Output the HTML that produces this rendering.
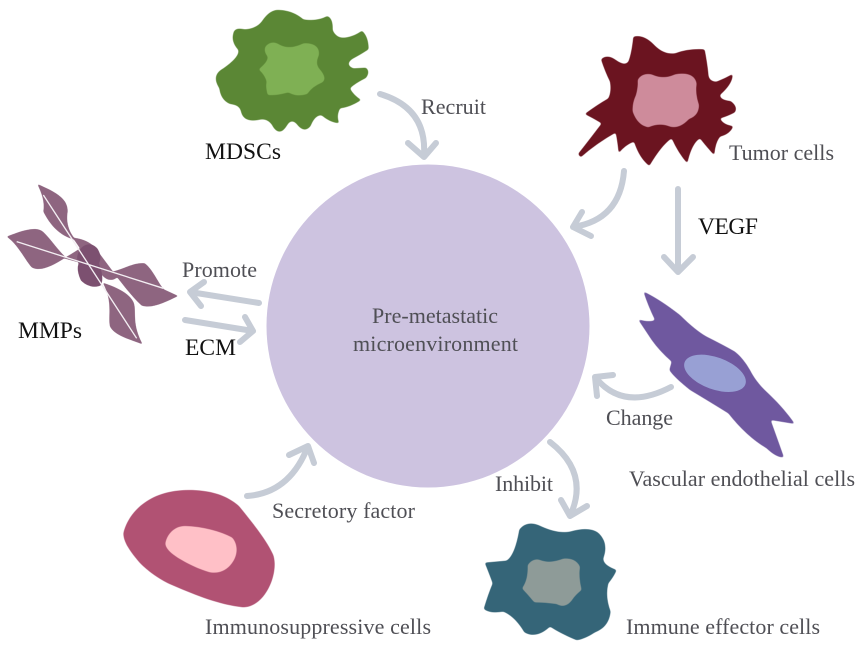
<!DOCTYPE html>
<html><head><meta charset="utf-8"><style>
html,body{margin:0;padding:0;background:#fff}
svg{display:block}
text{font-family:"Liberation Serif",serif;font-size:22px;fill:#4f4f55}
.k{fill:#111;font-size:23.5px}
.a{fill:none;stroke:#c6ccd6;stroke-width:6;stroke-linecap:round;stroke-linejoin:round}
</style></head><body>
<svg width="855" height="648" viewBox="0 0 855 648" xmlns="http://www.w3.org/2000/svg">
<defs>
<filter id="s" color-interpolation-filters="sRGB" x="-10%" y="-10%" width="120%" height="120%">
<feGaussianBlur stdDeviation="3.5"/>
<feComponentTransfer><feFuncA type="linear" slope="3" intercept="-1"/></feComponentTransfer>
</filter>
<filter id="t" color-interpolation-filters="sRGB" x="-10%" y="-10%" width="120%" height="120%">
<feGaussianBlur stdDeviation="2"/>
<feComponentTransfer><feFuncA type="linear" slope="3" intercept="-1"/></feComponentTransfer>
</filter>
</defs>
<rect width="855" height="648" fill="#fff"/>
<circle cx="428" cy="326" r="161.5" fill="#cdc3e0"/>

<g transform="translate(190,0) scale(.3333)">
<path filter="url(#s)" fill="#5b8735" d="M130 100Q132 80 165 88Q200 85 215 65Q240 26 270 30Q310 32 340 58Q380 65 412 48Q430 55 428 90Q440 118 470 112Q495 108 516 92Q536 110 536 148Q510 165 485 178Q465 195 490 205L528 203Q542 215 528 234Q495 250 480 265Q490 285 514 300Q480 322 450 325Q438 350 448 370Q420 368 395 346Q375 345 362 378Q345 400 325 378Q305 350 290 378Q270 410 250 382Q235 352 205 360Q160 368 153 335Q150 315 120 312Q92 300 88 265Q62 225 100 205Q150 170 145 150Q122 125 130 100Z"/>
<path filter="url(#s)" fill="#7fb054" d="M226 140Q245 118 270 135Q300 150 340 130Q390 128 387 165Q375 190 387 205Q414 235 397 247Q365 260 352 282Q320 292 295 277Q260 287 233 285Q226 260 230 245Q225 225 206 208Q235 185 233 170Q220 155 226 140Z"/>
</g>

<g transform="translate(560,30) scale(.3333)">
<path filter="url(#s)" fill="#6b1420" d="M123 88Q140 72 165 88Q195 110 205 95Q215 70 220 20Q250 12 280 42Q310 75 345 70Q385 55 434 58Q442 100 445 130Q445 155 470 155Q495 145 518 132Q520 160 480 195Q480 210 512 213Q535 230 525 247Q500 260 480 265Q490 285 520 288Q512 312 480 320Q465 340 463 376Q435 345 420 325Q395 340 382 400Q355 370 335 325Q305 345 268 408Q238 385 222 335Q195 345 176 370Q172 330 167 308Q110 340 62 382L54 372Q95 320 125 280Q100 265 74 252Q110 225 145 205Q155 185 150 155Q135 125 123 88Z"/>
<path filter="url(#s)" fill="#ce8b9b" d="M233 150Q245 128 275 133Q310 150 345 133Q402 123 410 160Q405 190 417 225Q417 257 387 267Q360 297 330 290Q300 277 265 292Q233 287 218 245Q216 220 228 195Q235 170 233 150Z"/>
</g>

<g transform="translate(0,170) scale(.3333)">
<g fill="#8e6580" filter="url(#t)">
<path d="M112 42C165 65 205 85 203 125C198 155 205 185 228 210C180 200 150 165 130 125C135 95 125 70 112 42Z"/>
<path d="M20 200C70 180 110 168 130 186C150 205 170 235 197 262C160 287 120 307 95 292C75 270 55 225 20 200Z"/>
<path d="M535 378C495 397 455 417 425 407C395 380 370 345 338 305C375 295 405 276 435 280C460 300 475 340 492 358Z"/>
<path d="M428 523C385 507 345 497 330 470C323 440 340 395 308 338C345 350 392 370 402 400C410 430 395 460 428 523Z"/>
<path d="M218 203Q265 208 287 235L352 322Q320 347 290 292L192 265Q225 245 240 235Z"/>
</g>
<path filter="url(#t)" fill="#7c5070" d="M245 232Q270 212 292 235Q308 260 297 280Q314 325 302 347Q270 358 243 332Q228 300 236 280Q223 260 245 232Z"/>
<path d="M130 75L410 505M50 215L490 355" stroke="#f3eef2" stroke-width="4" fill="none"/>
</g>

<g transform="translate(580,280) scale(.3333)">
<path filter="url(#s)" fill="#6f589f" d="M190 34Q240 58 300 105Q345 150 380 170Q430 195 465 215Q490 235 510 270Q530 310 570 345Q612 385 645 432L572 420Q590 470 612 532Q590 534 560 505Q500 470 445 400Q380 360 330 330Q280 290 268 270L275 245Q240 215 215 180L174 118Q210 128 225 120Q205 80 190 34Z"/>
<ellipse cx="405" cy="280" rx="97" ry="48" transform="rotate(20 405 280)" fill="#98a0d4"/>
</g>

<g transform="translate(470,430) scale(.3333)">
<path filter="url(#s)" fill="#356578" d="M44 398L110 392Q135 375 148 298Q170 272 205 285Q260 312 300 305Q360 288 387 310Q417 340 400 385Q398 405 440 420Q432 440 415 460Q405 500 422 545Q417 592 375 607Q345 627 320 631Q270 610 240 590Q200 628 163 607Q135 560 100 545Q60 552 41 537Q55 490 68 460Q55 425 44 398Z"/>
<path filter="url(#s)" fill="#8e9b98" d="M173 405Q190 383 210 390Q240 402 280 386Q317 383 330 410Q325 440 335 480Q315 495 305 512Q285 537 260 522Q225 517 193 517Q175 495 156 475Q175 450 173 405Z"/>
</g>

<g transform="translate(110,430) scale(.3333)">
<path filter="url(#s)" fill="#b15273" d="M40 310C55 245 120 180 235 180C300 180 350 195 387 228C425 275 470 330 490 375C508 430 465 532 400 532C330 525 260 497 190 467C150 450 115 425 88 397C60 365 40 335 40 310Z"/>
<path filter="url(#s)" fill="#ffc0c7" d="M166 340C172 310 195 288 225 288C280 290 330 303 367 323C385 345 382 372 372 390C355 420 330 432 300 427C265 417 235 402 210 387C185 372 166 355 166 340Z"/>
</g>

<g class="a">
<path d="M380 94Q427 108 424 155M408 143L424 157L436 143"/>
<path d="M624 171Q620 220 573 227M582 212L573 227L591 236"/>
<path d="M678 189V271M664 257L678 272L693 257"/>
<path d="M259 303L190 292M204 282L190 292L201 306"/>
<path d="M185 320L253 331M245 317L253 331L240 342"/>
<path d="M671 387Q623 412 595 377M613 375L595 377L597 396"/>
<path d="M550 442Q590 473 570 516M561 500L570 516L587 506"/>
<path d="M247 496Q290 493 308 446M289 455L308 446L314 463"/>
</g>

<text class="k" x="205" y="159" textLength="76">MDSCs</text>
<text x="421" y="114" textLength="65">Recruit</text>
<text x="729" y="160" textLength="105">Tumor cells</text>
<text class="k" x="698" y="234" textLength="60">VEGF</text>
<text x="182" y="277" textLength="75">Promote</text>
<text class="k" x="185" y="355" textLength="51">ECM</text>
<text class="k" x="18" y="338" textLength="64">MMPs</text>
<text x="372" y="323" textLength="126">Pre-metastatic</text>
<text x="353" y="351" textLength="165">microenvironment</text>
<text x="606" y="425" textLength="67">Change</text>
<text x="629" y="486" textLength="226">Vascular endothelial cells</text>
<text x="495" y="491" textLength="58">Inhibit</text>
<text x="272" y="518" textLength="143">Secretory factor</text>
<text x="626" y="634" textLength="194">Immune effector cells</text>
<text x="205" y="634" textLength="226">Immunosuppressive cells</text>
</svg>
</body></html>
